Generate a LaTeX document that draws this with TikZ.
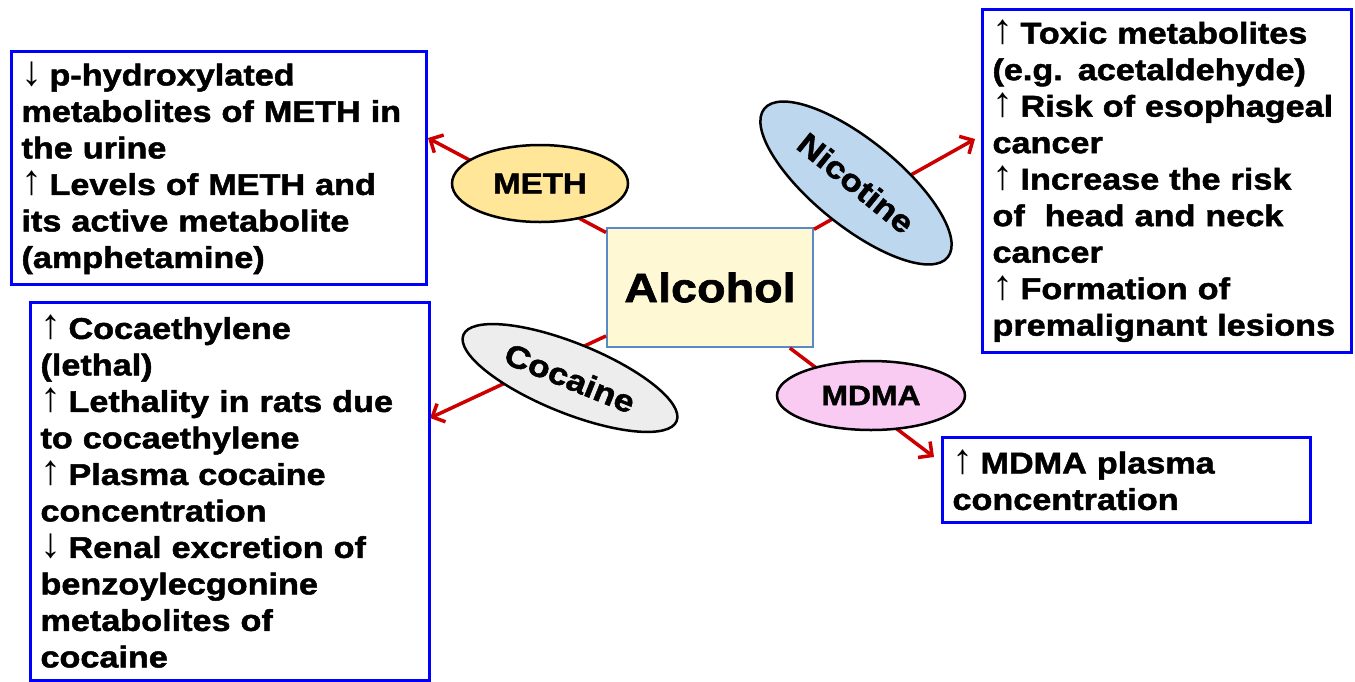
\documentclass[tikz,border=0pt]{standalone}
\usepackage{fontspec}
\setmainfont{Liberation Sans}
\newfontfamily\labelfont[FakeStretch=1.14,FakeBold=1.6]{Liberation Sans}
\newfontfamily\arrowfont{Liberation Sans}
\usetikzlibrary{shapes.geometric,arrows.meta}

\definecolor{methfill}{HTML}{FFE699}
\definecolor{nicfill}{HTML}{BDD7EE}
\definecolor{cocfill}{HTML}{EDEDED}
\definecolor{mdmafill}{HTML}{F9CBF2}
\definecolor{alcfill}{HTML}{FFF8D5}
\definecolor{alcline}{HTML}{5A8AC6}
\definecolor{linkred}{HTML}{CC0000}

\newcommand{\incr}{{\arrowfont\mdseries\fontsize{42}{36.5}\selectfont ↑\kern-3pt}}
\newcommand{\decr}{{\arrowfont\mdseries\fontsize{42}{36.5}\selectfont ↓\kern-3pt}}

\begin{document}
\begin{tikzpicture}[x=1pt,y=-1pt]
        \tikzstyle{effect}=[draw=blue, line width=3pt, anchor=north west, inner xsep=10pt, inner ysep=0pt, align=left, font=\labelfont\bfseries\fontsize{30}{36.5}\selectfont]
        \tikzstyle{drug}=[ellipse, draw=black, line width=2.5pt, inner sep=0pt, font=\labelfont\bfseries\fontsize{28}{30}\selectfont]
        \tikzstyle{link}=[draw=linkred, line width=3.5pt, -{Straight Barb[length=10pt,width=20pt]}]
        \useasboundingbox (0,0) rectangle (1355,681);
        \node [draw=alcline, fill=alcfill, line width=2pt, minimum width=206pt, minimum height=119pt, font=\labelfont\bfseries\fontsize{41}{45}\selectfont] (alc) at (710,287.5) {Alcohol};
        \coordinate (methtip) at (428,138);
        \coordinate (nictip) at (975,139);
        \coordinate (coctip) at (430,418);
        \coordinate (mdmatip) at (934,457);
        \draw[link] (alc) -- (methtip);
        \draw[link] (alc) -- (nictip);
        \draw[link] (alc) -- (coctip);
        \draw[link] (alc) -- (mdmatip);
        \node [drug, fill=methfill, minimum width=176pt, minimum height=77pt, font=\labelfont\bfseries\fontsize{29}{30}\selectfont] (meth) at (540,183.5) {METH};
        \node [drug, fill=nicfill, minimum width=236pt, minimum height=86pt, rotate=-39, font=\labelfont\bfseries\fontsize{31}{33}\selectfont] (nic) at (856,183) {Nicotine};
        \node [drug, fill=cocfill, minimum width=230pt, minimum height=70pt, rotate=-22, font=\labelfont\bfseries\fontsize{31}{33}\selectfont] (coc) at (570,378) {Cocaine};
        \node [drug, fill=mdmafill, minimum width=188pt, minimum height=69pt] (mdma) at (871,395.5) {MDMA};
        \node [effect, minimum width=415pt, minimum height=233pt, text width=395pt] (methfx) at (10,50) {\decr{} p-hydroxylated\\metabolites of METH in\\the urine\\\incr{} Levels of METH and\\its active metabolite\\(amphetamine)};
        \node [effect, minimum width=369pt, minimum height=343pt, text width=349pt] (nicfx) at (981,8) {\incr{} Toxic metabolites\\(e.g. acetaldehyde)\\\incr{} Risk of esophageal\\cancer\\\incr{} Increase the risk\\of~~head and neck\\cancer\\\incr{} Formation of\\premalignant lesions};
        \node [effect, minimum width=399pt, minimum height=378pt, text width=379pt] (cocfx) at (29,301) {\incr{} Cocaethylene\\(lethal)\\\incr{} Lethality in rats due\\to cocaethylene\\\incr{} Plasma cocaine\\concentration\\\decr{} Renal excretion of\\benzoylecgonine\\metabolites of\\cocaine};
        \node [effect, minimum width=368pt, minimum height=85pt, text width=348pt] (mdmafx) at (941,436) {\incr{} MDMA plasma\\concentration};
    \end{tikzpicture}
\end{document}
